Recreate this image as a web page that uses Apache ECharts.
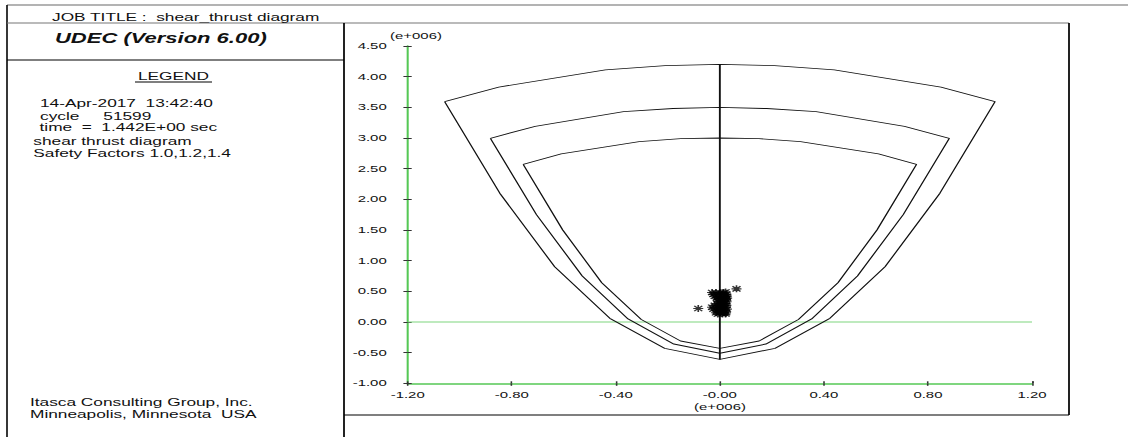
<!DOCTYPE html>
<html>
<head>
<meta charset="utf-8">
<script src="https://cdn.jsdelivr.net/npm/echarts@6/dist/echarts.min.js"></script>
<style>
  html, body { margin: 0; padding: 0; background: #fff; overflow: hidden; }
  #c { transform-origin: 0 0; }
</style>
</head>
<body>
<div id="c"></div>
<script>
// Axis ticks (units of 1e6)
const xTicks = [-1.2, -0.8, -0.4, 0.0, 0.4, 0.8, 1.2];
const yTicks = [-1.0, -0.5, 0.0, 0.5, 1.0, 1.5, 2.0, 2.5, 3.0, 3.5, 4.0, 4.5];
const axisExponent = '(e+006)';

// Shear-thrust envelopes for the three safety factors (closed outlines: top arc, right flank, left flank)
const envelopeSF10 = [
  [-1.058, 3.594], [-0.85, 3.83], [-0.44, 4.11], [-0.21, 4.18], [0.0, 4.20],
  [0.21, 4.18], [0.44, 4.11], [0.85, 3.83], [1.058, 3.594],
  [0.846, 2.10], [0.635, 0.90], [0.423, 0.06], [0.212, -0.43], [0.0, -0.61],
  [-0.212, -0.43], [-0.423, 0.06], [-0.635, 0.90], [-0.846, 2.10], [-1.058, 3.594]
];
const envelopeSF12 = [
  [-0.882, 2.995], [-0.71, 3.19], [-0.37, 3.43], [-0.18, 3.48], [0.0, 3.50],
  [0.18, 3.48], [0.37, 3.43], [0.71, 3.19], [0.882, 2.995],
  [0.705, 1.75], [0.529, 0.75], [0.353, 0.05], [0.177, -0.36], [0.0, -0.51],
  [-0.177, -0.36], [-0.353, 0.05], [-0.529, 0.75], [-0.705, 1.75], [-0.882, 2.995]
];
const envelopeSF14 = [
  [-0.756, 2.57], [-0.61, 2.74], [-0.31, 2.94], [-0.15, 2.99], [0.0, 3.00],
  [0.15, 2.99], [0.31, 2.94], [0.61, 2.74], [0.756, 2.57],
  [0.604, 1.50], [0.454, 0.64], [0.302, 0.04], [0.151, -0.31], [0.0, -0.43],
  [-0.151, -0.31], [-0.302, 0.04], [-0.454, 0.64], [-0.604, 1.50], [-0.756, 2.57]
];
const centreLine = [[0.0, -0.61], [0.0, 4.20]];

// Joint shear / normal force states recorded during cycling
const thrustStates = [
  [-0.030, 0.48], [-0.015, 0.48], [0.000, 0.48], [0.015, 0.48], [0.022, 0.49],
  [-0.025, 0.45], [-0.005, 0.45], [0.010, 0.45], [0.025, 0.45],
  [-0.020, 0.42], [0.000, 0.42], [0.018, 0.42], [0.027, 0.42],
  [-0.012, 0.39], [0.005, 0.39], [0.020, 0.39], [0.028, 0.39],
  [-0.008, 0.36], [0.010, 0.36], [0.024, 0.36],
  [-0.005, 0.33], [0.012, 0.33], [0.026, 0.33],
  [-0.010, 0.30], [0.006, 0.30], [0.020, 0.30],
  [-0.020, 0.27], [0.000, 0.27], [0.015, 0.27], [0.025, 0.27],
  [-0.030, 0.24], [-0.010, 0.24], [0.008, 0.24], [0.022, 0.24],
  [-0.025, 0.21], [-0.005, 0.21], [0.012, 0.21], [0.027, 0.21],
  [-0.012, 0.18], [0.004, 0.18], [0.020, 0.18],
  [-0.015, 0.15], [0.000, 0.15], [0.016, 0.15], [0.024, 0.15],
  [-0.008, 0.13], [0.010, 0.13], [0.022, 0.13],
  [0.064, 0.54], [-0.083, 0.22]
];

const jobTitle = 'JOB TITLE :  shear_thrust diagram';
const codeName = 'UDEC (Version 6.00)';
const legendHeading = 'LEGEND';
const legendLines = [
  '14-Apr-2017  13:42:40',
  'cycle     51599',
  'time  =  1.442E+00 sec',
  'shear thrust diagram',
  'Safety Factors 1.0,1.2,1.4'
];
const footerLines = ['Itasca Consulting Group, Inc.', 'Minneapolis, Minnesota  USA'];

// The plot sheet is laid out narrow and stretched horizontally, like the plotter output.
const PAGE_W = 1128, PAGE_H = 437, INNER_W = 718;
const SX = PAGE_W / INNER_W;
const X = v => v / SX;

const el = document.getElementById('c');
el.style.width = INNER_W + 'px';
el.style.height = PAGE_H + 'px';
el.style.transform = 'scaleX(' + SX + ')';

const FONT = '"Liberation Sans", Arial, sans-serif';
const fmt = v => v.toFixed(2);

function hline(x1, x2, y, stroke, w) {
  return { type: 'line', silent: true, shape: { x1: X(x1), y1: y, x2: X(x2), y2: y }, style: { stroke: stroke, lineWidth: w } };
}
function vline(x, y1, y2, stroke, w) {
  return { type: 'line', silent: true, shape: { x1: X(x), y1: y1, x2: X(x), y2: y2 }, style: { stroke: stroke, lineWidth: w } };
}
function label(text, x, y, opts) {
  opts = opts || {};
  return {
    type: 'text', silent: true, x: X(x), y: y,
    style: {
      text: text,
      fontFamily: FONT,
      fontSize: opts.size || 11,
      fontWeight: opts.weight || 'normal',
      fontStyle: opts.style || 'normal',
      fill: '#111',
      align: opts.align || 'left', textAlign: opts.align || 'left',
      verticalAlign: 'middle', textVerticalAlign: 'middle'
    }
  };
}

const graphics = [
  hline(7, 1128, 5, '#9a9a9a', 1.5),
  vline(7, 5, 437, '#000', 1),
  hline(7, 1069, 23, '#777', 1.2),
  vline(344, 23, 437, '#000', 1.1),
  hline(7, 344, 60, '#000', 1.1),
  vline(1069, 23, 415, '#000', 1.1),
  hline(344, 1069, 415, '#000', 1.1),
  hline(135, 212, 82, '#000', 1),
  label(jobTitle, 52, 17),
  label(codeName, 55, 38.5, { size: 14, weight: 'bold', style: 'italic' }),
  label(legendHeading, 138, 76.7),
  label(legendLines[0], 40, 103.7),
  label(legendLines[1], 40, 116.5),
  label(legendLines[2], 39.5, 127.7),
  label(legendLines[3], 33.3, 141.5),
  label(legendLines[4], 33.3, 153.7),
  label(footerLines[0], 30, 402.5),
  label(footerLines[1], 30, 414),
  label(axisExponent, 416, 36, { size: 9.5, align: 'center' }),
  label(axisExponent, 720, 407, { size: 9.5, align: 'center' })
];

const GREEN = '#55c855';
const TICK = '#333';
const axisFont = { fontFamily: FONT, fontSize: 9.5, color: '#111' };

const xBase = {
  type: 'value', gridIndex: 0, position: 'bottom',
  min: xTicks[0], max: xTicks[xTicks.length - 1], interval: xTicks[1] - xTicks[0],
  splitLine: { show: false }
};
const yBase = {
  type: 'value', gridIndex: 0, position: 'left',
  min: yTicks[0], max: yTicks[yTicks.length - 1], interval: yTicks[1] - yTicks[0],
  splitLine: { show: false }
};

const chart = echarts.init(el, null, { renderer: 'svg', width: INNER_W, height: PAGE_H });

const outline = (name, data, w) => ({
  name: name, type: 'line', data: data, showSymbol: false, symbol: 'none',
  lineStyle: { color: '#111', width: w }, z: 3, silent: true, animation: false
});

chart.setOption({
  animation: false,
  backgroundColor: '#fff',
  grid: {
    left: X(407.7), top: 46, width: X(1032) - X(407.7), height: 337.3,
    containLabel: false, outerBoundsMode: 'none'
  },
  xAxis: [
    Object.assign({}, xBase, {
      axisLine: { show: true, onZero: false, lineStyle: { color: GREEN, width: 1.5 } },
      axisTick: { show: true, length: 2.5, lineStyle: { color: TICK, width: 1 } },
      axisLabel: Object.assign({ formatter: fmt, margin: 7 }, axisFont)
    }),
    Object.assign({}, xBase, {
      axisLine: { show: false, onZero: false },
      axisTick: { show: true, inside: true, length: 2, lineStyle: { color: TICK, width: 1 } },
      axisLabel: { show: false }
    })
  ],
  yAxis: [
    Object.assign({}, yBase, {
      axisLine: { show: true, onZero: false, lineStyle: { color: GREEN, width: 1.3 } },
      axisTick: { show: true, length: X(4.3), lineStyle: { color: TICK, width: 1 } },
      axisLabel: Object.assign({ formatter: fmt, margin: X(21) }, axisFont)
    }),
    Object.assign({}, yBase, {
      axisLine: { show: false, onZero: false },
      axisTick: { show: true, inside: true, length: X(4), lineStyle: { color: TICK, width: 1 } },
      axisLabel: { show: false }
    })
  ],
  series: [
    {
      name: 'zero', type: 'line', xAxisIndex: 0, yAxisIndex: 0,
      data: [[xTicks[0], 0], [xTicks[xTicks.length - 1], 0]],
      showSymbol: false, symbol: 'none', silent: true,
      lineStyle: { color: '#7fd67f', width: 1 }, z: 2
    },
    outline('SF 1.0', envelopeSF10, 0.9),
    outline('SF 1.2', envelopeSF12, 0.9),
    outline('SF 1.4', envelopeSF14, 0.9),
    outline('centre', centreLine, 1.2),
    {
      name: 'states', type: 'scatter', data: thrustStates, silent: true, z: 4,
      symbol: 'path://M5,0L5,8M0,4L10,4M1,1L9,7M1,7L9,1',
      symbolSize: [X(10), 7],
      itemStyle: { color: 'transparent', borderColor: '#000', borderWidth: 1.1 }
    }
  ],
  graphic: graphics
});
</script>
</body>
</html>
